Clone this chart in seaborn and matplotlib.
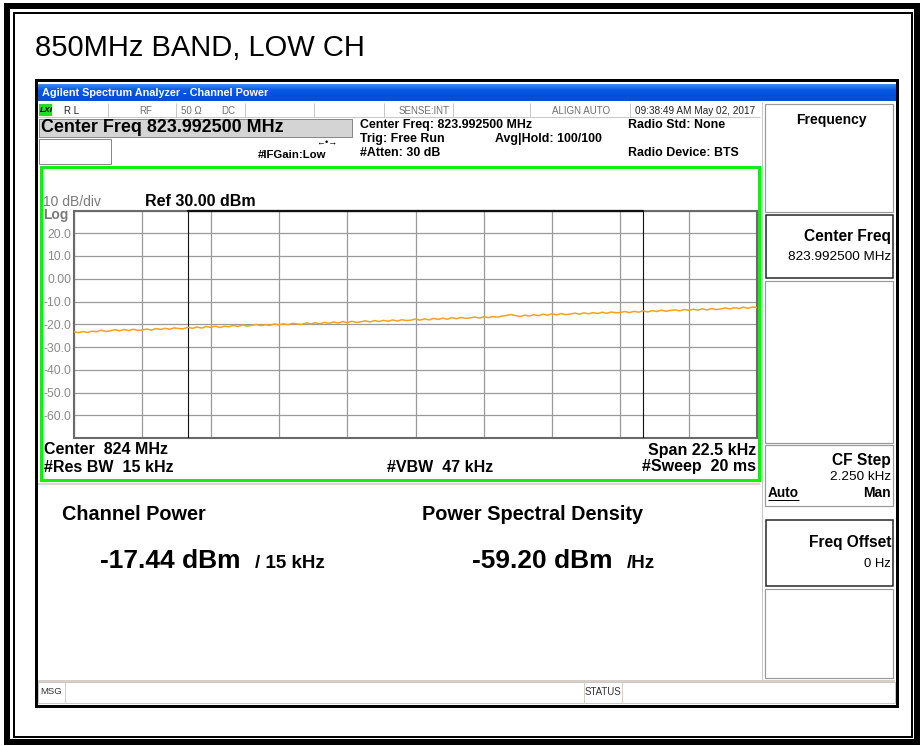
import numpy as np
import pandas as pd
import matplotlib
matplotlib.use("Agg")
import matplotlib.pyplot as plt
from matplotlib.patches import Rectangle
import seaborn as sns

# ---------------- data ----------------
title_text = "850MHz BAND, LOW CH"
span_khz = 22.5
channel_bw_khz = 15.0
ref_level = 30.0
db_per_div = 10.0
ytick_values = [30, 20, 10, 0, -10, -20, -30, -40, -50, -60, -70]
ytick_labels = ["", "20.0", "10.0", "0.00", "-10.0", "-20.0", "-30.0", "-40.0", "-50.0", "-60.0", ""]
trace_dbm = [
    -23.3, -23.7, -23.2, -23.6, -23.0, -23.3, -22.6, -23.2, -22.9, -22.4,
    -22.9, -22.3, -22.8, -22.2, -22.7, -22.5, -22.1, -22.6, -21.9, -22.3,
    -21.8, -22.2, -21.6, -21.9, -22.0, -21.3, -21.8, -21.2, -21.7, -21.0,
    -21.4, -20.8, -21.4, -20.9, -21.1, -20.5, -21.0, -20.3, -20.8, -20.5,
    -20.1, -20.6, -20.2, -20.5, -19.9, -20.3, -19.8, -20.2, -19.6, -19.9,
    -20.1, -19.4, -19.9, -19.3, -19.8, -19.2, -19.6, -19.0, -19.5, -18.8,
    -19.3, -18.7, -19.2, -18.9, -18.5, -19.0, -18.4, -18.8, -18.3, -18.7,
    -18.1, -18.6, -18.0, -18.4, -18.2, -17.7, -18.2, -17.6, -18.1, -17.4,
    -17.9, -17.3, -17.8, -17.1, -17.6, -17.0, -17.4, -17.2, -16.8, -17.3,
    -16.7, -17.1, -16.6, -16.9, -16.4, -16.1, -15.7, -16.2, -16.6, -16.0,
    -16.4, -15.8, -16.2, -15.6, -16.0, -15.4, -15.9, -15.3, -15.8, -15.5,
    -15.1, -15.6, -15.0, -15.4, -14.9, -15.3, -14.7, -15.2, -14.6, -15.0,
    -14.8, -14.4, -14.9, -14.3, -14.7, -14.1, -14.6, -14.0, -14.4, -13.8,
    -14.3, -13.9, -13.7, -14.1, -13.5, -13.9, -13.4, -13.8, -13.2, -13.7,
    -13.1, -13.5, -13.3, -12.8, -13.3, -12.7, -13.1, -12.5, -13.0, -12.4,
    -12.7,
]
channel_power = "-17.44 dBm"
psd = "-59.20 dBm"

freq_khz = np.linspace(-span_khz / 2, span_khz / 2, len(trace_dbm))
df = pd.DataFrame({"freq_khz": freq_khz, "dbm": trace_dbm})

# ---------------- figure ----------------
sns.set_theme(style="white")
plt.rcParams["font.family"] = ["Liberation Sans", "DejaVu Sans"]

W, H = 922, 746
fig = plt.figure(figsize=(W / 100, H / 100), dpi=100)
bg = fig.add_axes([0, 0, 1, 1])
bg.set_xlim(0, W)
bg.set_ylim(H, 0)
bg.axis("off")

PX = 0.72  # points per pixel


def rect(x0, y0, x1, y1, ec="none", fc="none", lw=1, z=1):
    bg.add_patch(Rectangle((x0, y0), x1 - x0, y1 - y0, ec=ec, fc=fc,
                           lw=lw * PX, zorder=z))


def line(xs, ys, c="#000", lw=1, z=2):
    bg.plot(xs, ys, color=c, lw=lw * PX, zorder=z, solid_capstyle="butt")


def txt(x, y, s, size=8, weight="normal", color="#000", ha="left", va="center", **kw):
    bg.text(x, y, s, fontsize=size, fontweight=weight, color=color, ha=ha, va=va,
            zorder=5, **kw)


# outer page frame
rect(6.5, 5.5, 917, 742, ec="#000", lw=6)
rect(13.5, 12.5, 911.5, 736.5, ec="#000", lw=2)

# page title
txt(35, 48, title_text, size=21)

# screenshot frame
rect(36, 80, 897, 706, fc="white", ec="#000", lw=3, z=1)

# title bar gradient
grad = np.linspace(0, 1, 50).reshape(-1, 1)
cmap = matplotlib.colors.LinearSegmentedColormap.from_list(
    "xp", ["#3c8ef3", "#0a5ae6", "#0051dc", "#0a4fd0"])
bg.imshow(grad, extent=[38, 895, 101, 84], aspect="auto", cmap=cmap, zorder=2)
txt(42, 93, "Agilent Spectrum Analyzer - Channel Power", size=7.8, weight="bold",
    color="white")

# status row
line([38, 760], [117, 117], c="#c8c8c8", lw=1, z=3)
for sx in [108, 176, 245, 314, 384, 453, 530, 630]:
    line([sx, sx], [103, 117], c="#c8c8c8", lw=1, z=3)
rect(39, 104, 52, 116, fc="#22dd22", z=3)
txt(40, 110.5, "LXI", size=6, weight="bold", color="#000", style="italic")
gray_t = "#6e6e6e"
txt(64, 110.5, "R L", size=7, color="#222")
txt(139, 110.5, "RF", size=7, color=gray_t)
txt(181, 110.5, "50 \u03a9", size=7, color=gray_t)
txt(221, 110.5, "DC", size=7, color=gray_t)
txt(399, 110.5, "SENSE:INT", size=7, color=gray_t)
txt(552, 110.5, "ALIGN AUTO", size=7, color=gray_t)
txt(635, 110.5, "09:38:49 AM May 02, 2017", size=7.2, color="#222")

# center freq box
rect(39, 119, 352, 137, fc="#d4d4d4", ec="#888", lw=1, z=2)
txt(41, 128, "Center Freq 823.992500 MHz", size=12.9, weight="bold")
rect(39, 139, 111, 164, fc="white", ec="#888", lw=1, z=2)
txt(258, 155, "#IFGain:Low", size=8.2, weight="bold")
txt(316, 143, "\u2190\u2022\u2192", size=6.5)
txt(360, 125, "Center Freq: 823.992500 MHz", size=8.9, weight="bold")
txt(360, 139, "Trig: Free Run", size=8.9, weight="bold")
txt(495, 139, "Avg|Hold: 100/100", size=8.9, weight="bold")
txt(360, 153, "#Atten: 30 dB", size=8.9, weight="bold")
txt(628, 125, "Radio Std: None", size=8.9, weight="bold")
txt(628, 153, "Radio Device: BTS", size=8.9, weight="bold")

# green trace window
rect(41, 167, 759, 480, ec="#10f010", lw=3, z=2)
txt(43, 202, "10 dB/div", size=10, color="#7a7a7a")
txt(145, 201, "Ref 30.00 dBm", size=11.5, weight="bold")
txt(43, 215, "Log", size=10, color="#7a7a7a", weight="bold")
txt(44, 450, "Center  824 MHz", size=11.5, weight="bold")
txt(44, 467, "#Res BW  15 kHz", size=11.5, weight="bold")
txt(387, 467, "#VBW  47 kHz", size=11.5, weight="bold")
txt(756, 450, "Span 22.5 kHz", size=11.5, weight="bold", ha="right")
txt(756, 467, "#Sweep  20 ms", size=11.5, weight="bold", ha="right")

# right soft-key panel
line([762, 762], [102, 680], c="#c8c8c8", lw=1)
rect(765, 104, 893, 212, fc="white", ec="#9a9a9a", lw=1.2, z=2)
txt(831, 120, "Frequency", size=10, weight="bold", ha="center")
rect(766, 215, 893, 278, fc="white", ec="#222", lw=1.5, z=2)
txt(891, 236, "Center Freq", size=11.2, weight="bold", ha="right")
txt(891, 257, "823.992500 MHz", size=9.7, ha="right")
rect(765, 281, 893, 443, fc="white", ec="#9a9a9a", lw=1.2, z=2)
rect(765, 445, 893, 506, fc="white", ec="#9a9a9a", lw=1.2, z=2)
txt(891, 461, "CF Step", size=11.2, weight="bold", ha="right")
txt(891, 477, "2.250 kHz", size=9.7, ha="right")
txt(768, 493, "Auto", size=9.8, weight="bold")
line([768, 799], [500, 500], c="#000", lw=1, z=3)
txt(891, 493, "Man", size=10, weight="bold", ha="right")
rect(766, 520, 893, 586, fc="white", ec="#222", lw=1.5, z=2)
txt(891, 543, "Freq Offset", size=11.2, weight="bold", ha="right")
txt(891, 564, "0 Hz", size=9.4, ha="right")
rect(765, 589, 893, 678, fc="white", ec="#9a9a9a", lw=1.2, z=2)

# results area
line([38, 760], [484, 484], c="#d8d8d8", lw=2)
txt(62, 515, "Channel Power", size=14.3, weight="bold")
txt(100, 561, channel_power, size=19, weight="bold")
txt(255, 563, "/ 15 kHz", size=13.5, weight="bold")
txt(422, 515, "Power Spectral Density", size=14.3, weight="bold")
txt(472, 561, psd, size=19, weight="bold")
txt(627, 563, "/Hz", size=13.5, weight="bold")

# bottom status bar
line([38, 895], [681, 681], c="#d4d0c8", lw=2)
rect(38, 682, 895, 703, fc="white", ec="#c8c8c8", lw=1, z=2)
for sx in [65, 584, 622]:
    line([sx, sx], [682, 703], c="#d4d0c8", lw=1, z=3)
txt(40, 692, "MSG", size=6.8, color="#333")
txt(585, 692, "STATUS", size=7, color="#333")

# ---------------- trace axes ----------------
x0, x1, y0, y1 = 74, 757, 210.5, 438
ax = fig.add_axes([x0 / W, 1 - y1 / H, (x1 - x0) / W, (y1 - y0) / H])
ax.set_facecolor("white")
sns.lineplot(data=df, x="freq_khz", y="dbm", ax=ax, color="#f7a21b", lw=1.1,
             zorder=4)
ax.set_xlim(-span_khz / 2, span_khz / 2)
ax.set_ylim(ref_level - 10 * db_per_div, ref_level)
ax.set_xticks(np.linspace(-span_khz / 2, span_khz / 2, 11))
ax.set_xticklabels([])
ax.set_yticks(ytick_values)
ax.set_yticklabels(ytick_labels, color="#8a8a8a", fontsize=8.8)
ax.tick_params(axis="both", length=0, pad=2)
ax.grid(True, color="#9a9a9a", lw=0.9)
ax.set_xlabel("")
ax.set_ylabel("")
for s in ax.spines.values():
    s.set_color("#6a6a6a")
    s.set_linewidth(1.5)
for xv in (-channel_bw_khz / 2, channel_bw_khz / 2):
    ax.axvline(xv, color="#111", lw=0.8, zorder=3)
ax.plot([-channel_bw_khz / 2, channel_bw_khz / 2], [ref_level, ref_level],
        color="#111", lw=1.6, zorder=5, clip_on=False)

fig.savefig("out.png", dpi=100)
